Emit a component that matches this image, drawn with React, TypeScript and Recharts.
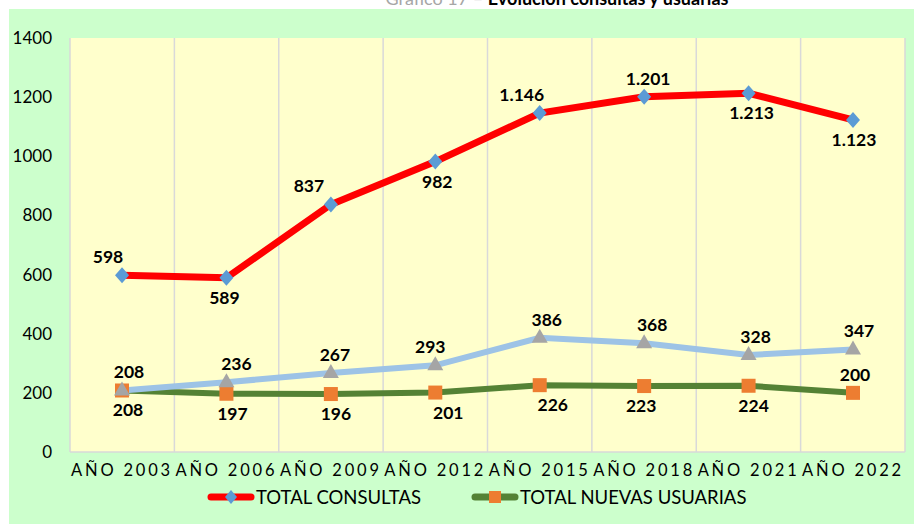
import React from 'react';
import { LineChart, Line, XAxis, YAxis, CartesianGrid, LabelList } from 'recharts';

const YEARS = ['AÑO 2003', 'AÑO 2006', 'AÑO 2009', 'AÑO 2012', 'AÑO 2015', 'AÑO 2018', 'AÑO 2021', 'AÑO 2022'];
const TOTAL_CONSULTAS = [598, 589, 837, 982, 1146, 1201, 1213, 1123];
const TOTAL_USUARIAS = [208, 236, 267, 293, 386, 368, 328, 347];
const TOTAL_NUEVAS_USUARIAS = [208, 197, 196, 201, 226, 223, 224, 200];
const Y_TICKS = [0, 200, 400, 600, 800, 1000, 1200, 1400];

const data = YEARS.map((year, i) => ({
  year,
  consultas: TOTAL_CONSULTAS[i],
  usuarias: TOTAL_USUARIAS[i],
  nuevas: TOTAL_NUEVAS_USUARIAS[i],
}));

// label placement (as in the Excel original)
const CONSULTAS_POS = ['top', 'bottom', 'top', 'bottom', 'top', 'top', 'bottom', 'bottom'];
const CONSULTAS_DX = [-14, -2, -22, 2, -18, 4, 3, 1];
const USUARIAS_POS = ['top', 'top', 'top', 'top', 'top', 'top', 'top', 'top'];
const USUARIAS_DX = [7, 10, 4, -5, 7, 8, 7, 6];
const NUEVAS_POS = ['bottom', 'bottom', 'bottom', 'bottom', 'bottom', 'bottom', 'bottom', 'top'];
const NUEVAS_DX = [6, 6, 5, 13, 13, -3, 5, 2];

const FONT = 'Lato, "Open Sans", sans-serif';

const fmt = (n: number) => String(n).replace(/\B(?=(\d{3})+(?!\d))/g, '.');

const makeLabel = (pos: string[], dxs: number[]) => (props: any) => {
  const { x, y, index, value } = props;
  const top = pos[index] === 'top';
  return (
    <text
      x={x + dxs[index]}
      y={top ? y - 12 : y + 26}
      textAnchor="middle"
      fontFamily={FONT}
      fontWeight={700}
      fontSize={17.5}
      fill="#000"
    >
      {fmt(value)}
    </text>
  );
};

const YearTick = (props: any) => {
  const { x, y, payload } = props;
  return (
    <text
      x={x}
      y={y + 22}
      textAnchor="middle"
      fontFamily={FONT}
      fontSize={16.5}
      letterSpacing={2.8}
      fill="#000"
    >
      {payload.value}
    </text>
  );
};

const Diamond = (props: any) => {
  const { cx, cy, index } = props;
  return <polygon key={index} points={`${cx},${cy - 8} ${cx + 7},${cy} ${cx},${cy + 8} ${cx - 7},${cy}`} fill="#5B9BD5" />;
};

const Square = (props: any) => {
  const { cx, cy, index } = props;
  return <rect key={index} x={cx - 7} y={cy - 7} width={14} height={14} fill="#ED7D31" />;
};

const Triangle = (props: any) => {
  const { cx, cy, index } = props;
  return <polygon key={index} points={`${cx},${cy - 9} ${cx + 8},${cy + 5} ${cx - 8},${cy + 5}`} fill="#A5A5A5" />;
};

const LegendItem = ({ color, marker, label }: { color: string; marker: React.ReactNode; label: string }) => (
  <div style={{ display: 'flex', alignItems: 'center' }}>
    <svg width={48} height={16}>
      <line x1={4} y1={8} x2={44} y2={8} stroke={color} strokeWidth={7} strokeLinecap="round" />
      {marker}
    </svg>
    <span style={{ fontSize: 18.5, color: '#000', marginLeft: 1 }}>{label}</span>
  </div>
);

export default function App() {
  return (
    <div style={{ position: 'absolute', left: 0, top: 0, width: 914, height: 524, background: '#fff', overflow: 'hidden', fontFamily: FONT }}>
      <div style={{ position: 'absolute', left: 9, top: 9, width: 905, height: 515, background: '#CCFFCC' }} />
      <svg style={{ position: 'absolute', left: 0, top: 0 }} width={914} height={10}>
        <text x={557} y={5} textAnchor="middle" fontFamily={FONT} fontSize={18}>
          <tspan fill="#A6A6A6">Gráfico 17 – </tspan>
          <tspan fill="#000" fontWeight={700}>Evolución consultas y usuarias</tspan>
        </text>
      </svg>
      <div style={{ position: 'absolute', left: 0, top: 0 }}>
        <LineChart width={914} height={524} data={data} margin={{ top: 38, right: 9, bottom: 0, left: 0 }}>
          <CartesianGrid
            fill="#FFFFCC"
            stroke="#D9D9D9"
            strokeWidth={1.5}
            horizontal={false}
            verticalCoordinatesGenerator={({ offset }: any) =>
              YEARS.map((_, i) => offset.left + (i * offset.width) / YEARS.length).concat(offset.left + offset.width)
            }
          />
          <XAxis
            dataKey="year"
            height={72}
            padding={{ left: 52, right: 52 }}
            axisLine={{ stroke: '#D9D9D9', strokeWidth: 1.5 }}
            tickLine={false}
            tickSize={0}
            interval={0}
            tick={YearTick}
          />
          <YAxis
            domain={[0, 1400]}
            ticks={Y_TICKS}
            width={70}
            axisLine={false}
            tickLine={false}
            tickSize={0}
            tickMargin={18}
            tick={{ fill: '#000', fontSize: 17, fontFamily: FONT }}
          />
          <Line
            type="linear"
            dataKey="nuevas"
            stroke="#548235"
            strokeWidth={6}
            dot={Square}
            activeDot={false}
            isAnimationActive={false}
          >
            <LabelList dataKey="nuevas" content={makeLabel(NUEVAS_POS, NUEVAS_DX)} />
          </Line>
          <Line
            type="linear"
            dataKey="usuarias"
            stroke="#9DC3E6"
            strokeWidth={6}
            dot={Triangle}
            activeDot={false}
            isAnimationActive={false}
          >
            <LabelList dataKey="usuarias" content={makeLabel(USUARIAS_POS, USUARIAS_DX)} />
          </Line>
          <Line
            type="linear"
            dataKey="consultas"
            stroke="#FF0000"
            strokeWidth={7}
            dot={Diamond}
            activeDot={false}
            isAnimationActive={false}
          >
            <LabelList dataKey="consultas" content={makeLabel(CONSULTAS_POS, CONSULTAS_DX)} />
          </Line>
        </LineChart>
      </div>
      <div style={{ position: 'absolute', left: 207, top: 486, display: 'flex', gap: 50 }}>
        <LegendItem
          color="#FF0000"
          label="TOTAL CONSULTAS"
          marker={<polygon points="24,1 30,8 24,15 18,8" fill="#5B9BD5" />}
        />
        <LegendItem
          color="#548235"
          label="TOTAL NUEVAS USUARIAS"
          marker={<rect x={18} y={2} width={12} height={12} fill="#ED7D31" />}
        />
      </div>
    </div>
  );
}
